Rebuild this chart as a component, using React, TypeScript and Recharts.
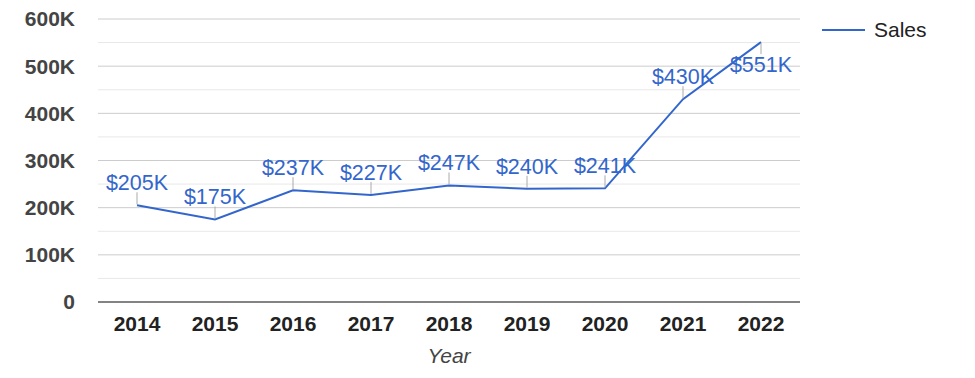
import { LineChart, Line, XAxis, YAxis, CartesianGrid, ReferenceLine, LabelList } from "recharts";

const YEARS = ["2014", "2015", "2016", "2017", "2018", "2019", "2020", "2021", "2022"];
const SALES = [205000, 175000, 237000, 227000, 247000, 240000, 241000, 430000, 551000];
const MAJOR_TICKS = [0, 100000, 200000, 300000, 400000, 500000, 600000];
const MINOR_TICKS = [50000, 150000, 250000, 350000, 450000, 550000];

const FONT = "'Liberation Sans', Arial, sans-serif";
const BLUE = "#3366cc";
const PLOT_TOP = 19;

const data = YEARS.map((year, i) => ({ year, sales: SALES[i] }));

const fmtAxis = (v: number) => (v === 0 ? "0" : `${v / 1000}K`);

const YTick = ({ x, y, payload }: any) => (
    <text x={x - 15} y={y} dy="0.35em" textAnchor="end" fontFamily={FONT} fontSize={21} fontWeight="bold" fill="#444">
        {fmtAxis(payload.value)}
    </text>
);

const XTick = ({ x, y, payload }: any) => (
    <text x={x} y={y + 29} textAnchor="middle" fontFamily={FONT} fontSize={21} fontWeight="bold" fill="#222">
        {payload.value}
    </text>
);

// label above the point, flipped below when it would leave the plot
const PointLabel = ({ x, y, value }: any) => {
    const below = y - 32 < PLOT_TOP;
    return (
        <g>
            {below ? (
                <line x1={x} y1={y + 1} x2={x} y2={y + 12} stroke="#aaa" strokeWidth={1} />
            ) : (
                <line x1={x} y1={y - 1} x2={x} y2={y - 13} stroke="#aaa" strokeWidth={1} />
            )}
            <text x={x} y={below ? y + 30 : y - 15} textAnchor="middle" fontFamily={FONT} fontSize={21.5} fill={BLUE}>
                {`$${Math.round(value / 1000)}K`}
            </text>
        </g>
    );
};

const App = () => {
    return (
        <div style={{ position: "fixed", left: 0, top: 0, width: 975, height: 378, background: "#fff" }}>
            <LineChart width={975} height={378} data={data} margin={{ top: PLOT_TOP, right: 175, left: 0, bottom: 16 }}>
                <CartesianGrid vertical={false} stroke="#cccccc" />
                {MINOR_TICKS.map((v) => (
                    <ReferenceLine key={v} y={v} stroke="#e8e8e8" strokeWidth={1} />
                ))}
                <XAxis
                    dataKey="year"
                    height={60}
                    tickSize={0}
                    tickMargin={0}
                    padding={{ left: 39, right: 39 }}
                    tick={<XTick />}
                    axisLine={{ stroke: "#222" }}
                    tickLine={false}
                    interval={0}
                    label={{
                        content: ({ viewBox }: any) => (
                            <text x={viewBox.x + viewBox.width / 2} y={363} textAnchor="middle" fontFamily={FONT} fontSize={21} fontStyle="italic" fill="#444">
                                Year
                            </text>
                        ),
                    }}
                />
                <YAxis
                    width={98}
                    domain={[0, 600000]}
                    ticks={MAJOR_TICKS}
                    tick={<YTick />}
                    axisLine={false}
                    tickLine={false}
                    interval={0}
                />
                <Line
                    type="linear"
                    dataKey="sales"
                    name="Sales"
                    stroke={BLUE}
                    strokeWidth={2}
                    dot={false}
                    isAnimationActive={false}
                >
                    <LabelList dataKey="sales" content={<PointLabel />} />
                </Line>
            </LineChart>
            <svg width={140} height={30} style={{ position: "absolute", left: 820, top: 19 }}>
                <line x1={2} y1={11} x2={45} y2={11} stroke={BLUE} strokeWidth={2} />
                <text x={54} y={18} fontFamily={FONT} fontSize={21} fill="#222">Sales</text>
            </svg>
        </div>
    );
};

export default App;
